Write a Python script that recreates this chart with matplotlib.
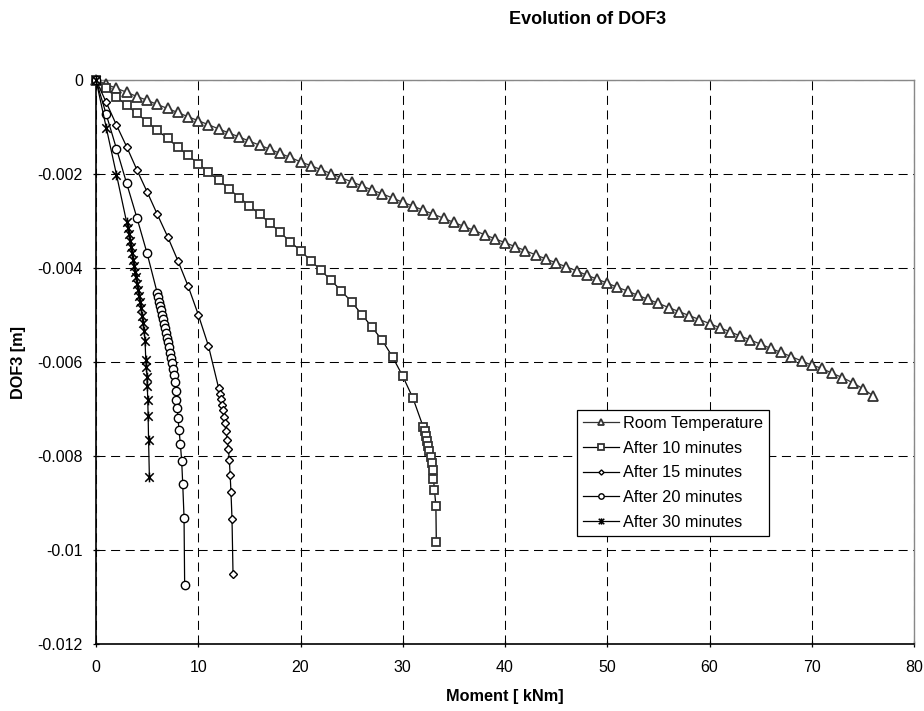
import matplotlib.pyplot as plt
from matplotlib.path import Path

plt.rcParams['font.family'] = ['Liberation Sans', 'DejaVu Sans']

# Moment [kNm] / DOF3 [m]
room_x = [0, 1, 2, 3, 4, 5, 6, 7, 8, 9, 10, 11, 12, 13, 14, 15, 16, 17, 18, 19,
          20, 21, 22, 23, 24, 25, 26, 27, 28, 29, 30, 31, 32, 33, 34, 35, 36, 37, 38, 39,
          40, 41, 42, 43, 44, 45, 46, 47, 48, 49, 50, 51, 52, 53, 54, 55, 56, 57, 58, 59,
          60, 61, 62, 63, 64, 65, 66, 67, 68, 69, 70, 71, 72, 73, 74, 75, 76]
room_y = [0, -0.00009, -0.000175, -0.00026, -0.00035, -0.00043, -0.00052, -0.000605, -0.00069, -0.00078, -0.000865,
          -0.00095, -0.00104, -0.001125, -0.00121, -0.0013, -0.001385, -0.00147, -0.00156, -0.001645, -0.00174,
          -0.00182, -0.001905, -0.00199, -0.00208, -0.002165, -0.00225, -0.00234, -0.00242, -0.00251, -0.0026,
          -0.00268, -0.00277, -0.002855, -0.00294, -0.00303, -0.003115, -0.0032, -0.00329, -0.003375, -0.00346,
          -0.003545, -0.00363, -0.00372, -0.003805, -0.00389, -0.003975, -0.00406, -0.00415, -0.004235, -0.00432,
          -0.00441, -0.00449, -0.00458, -0.004665, -0.00475, -0.00484, -0.004925, -0.00501, -0.005095, -0.00518,
          -0.00527, -0.005355, -0.005445, -0.00553, -0.00562, -0.00571, -0.005795, -0.005885, -0.005975, -0.006065,
          -0.006135, -0.00624, -0.00633, -0.00644, -0.006565, -0.00672]

m10_x = [0, 1, 2, 3, 4, 5, 6, 7, 8, 9, 10, 11, 12, 13, 14, 15, 16, 17, 18, 19, 20,
         21, 22, 23, 24, 25, 26, 27, 28, 29, 30, 31, 32,
         32.14, 32.24, 32.37, 32.47, 32.6, 32.73, 32.83, 32.93, 33.0, 33.1, 33.24, 33.28]
m10_y = [0, -0.000177, -0.000355, -0.000539, -0.000709, -0.000894, -0.00107, -0.00124, -0.00143, -0.0016,
         -0.00178, -0.00196, -0.00213, -0.00231, -0.0025, -0.00267, -0.00286, -0.00304, -0.00324, -0.00344,
         -0.00363, -0.00384, -0.00405, -0.00426, -0.00449, -0.00472, -0.00499, -0.00526, -0.00554, -0.00589,
         -0.0063, -0.00677, -0.00738,
         -0.00747, -0.00757, -0.00767, -0.00778, -0.00789, -0.00801, -0.00815, -0.0083, -0.00848, -0.00872,
         -0.00906, -0.00983]

m15_x = [0, 1, 2, 3, 4, 5, 6, 7, 8, 9, 10, 11, 12,
         12.13, 12.22, 12.32, 12.42, 12.52, 12.62, 12.71, 12.84, 12.94, 13.04, 13.12, 13.2, 13.3, 13.4]
m15_y = [0, -0.000475, -0.000957, -0.00142, -0.00191, -0.00238, -0.00286, -0.00333, -0.00384, -0.00438,
         -0.00499, -0.00566, -0.00656,
         -0.00667, -0.00679, -0.00691, -0.00703, -0.00716, -0.0073, -0.00747, -0.00765, -0.00785, -0.00809,
         -0.0084, -0.00877, -0.00933, -0.01051]

m20_x = [0, 1, 2, 3, 4, 5,
         6.0, 6.1, 6.2, 6.29, 6.39, 6.49, 6.59, 6.68, 6.78, 6.88, 6.98, 7.07, 7.17, 7.27, 7.37, 7.46,
         7.56, 7.64, 7.72, 7.79, 7.87, 7.94, 8.02, 8.12, 8.25, 8.38, 8.48, 8.61, 8.67]
m20_y = [0, -0.00073, -0.00146, -0.0022, -0.00293, -0.00369,
         -0.00454, -0.00462, -0.00472, -0.00481, -0.00489, -0.00499, -0.00509, -0.00518, -0.00528, -0.00538,
         -0.00548, -0.00558, -0.00569, -0.0058, -0.00591, -0.00603, -0.00615, -0.00628, -0.00642, -0.00662,
         -0.0068, -0.00698, -0.0072, -0.00745, -0.00774, -0.00811, -0.00859, -0.00931, -0.01075]

m30_x = [0, 1, 2, 3,
         3.1, 3.2, 3.3, 3.4, 3.5, 3.6, 3.7, 3.8, 3.9, 4.0, 4.1, 4.2, 4.3, 4.4, 4.5, 4.6, 4.7, 4.8,
         4.87, 4.93, 4.98, 5.02, 5.06, 5.1, 5.14, 5.22]
m30_y = [0, -0.00101, -0.00201, -0.00303,
         -0.00315, -0.00328, -0.00342, -0.00355, -0.00368, -0.00382, -0.00395, -0.00408, -0.0042, -0.00433,
         -0.00446, -0.00459, -0.00472, -0.00486, -0.00501, -0.00517, -0.00535, -0.00556,
         -0.00596, -0.0061, -0.00631, -0.00652, -0.0068, -0.00715, -0.00765, -0.00845]

labels = ['Room Temperature', 'After 10 minutes', 'After 15 minutes', 'After 20 minutes', 'After 30 minutes']
x_ticks = [0, 10, 20, 30, 40, 50, 60, 70, 80]
y_ticks = [0, -0.002, -0.004, -0.006, -0.008, -0.01, -0.012]
y_tick_labels = ['0', '-0.002', '-0.004', '-0.006', '-0.008', '-0.01', '-0.012']

# excel style asterisk: x plus a vertical bar
asterisk = Path([(-1, -1), (1, 1), (-1, 1), (1, -1), (0, -1.15), (0, 1.15)],
                [Path.MOVETO, Path.LINETO] * 3)

fig = plt.figure(figsize=(9.24, 7.11), dpi=100)
ax = fig.add_axes([0.1039, 0.0942, 0.8853, 0.7932])

ax.plot(room_x, room_y, color='#333333', lw=0.9, marker='^', ms=6.6, mfc='white',
        mec='#333333', mew=1.3, label=labels[0], clip_on=False, zorder=3)
ax.plot(m10_x, m10_y, color='black', lw=0.9, marker='s', ms=6.0, mfc='white',
        mec='#333333', mew=1.3, label=labels[1], clip_on=False, zorder=3)
ax.plot(m15_x, m15_y, color='black', lw=0.9, marker='D', ms=4.0, mfc='white',
        mec='black', mew=1.0, label=labels[2], clip_on=False, zorder=3)
ax.plot(m20_x, m20_y, color='black', lw=0.9, marker='o', ms=6.0, mfc='white',
        mec='black', mew=1.0, label=labels[3], clip_on=False, zorder=3)
ax.plot(m30_x, m30_y, color='black', lw=0.9, marker=asterisk, ms=7.0, mfc='none',
        mec='black', mew=1.1, label=labels[4], clip_on=False, zorder=3)

ax.set_xlim(0, 80)
ax.set_ylim(-0.012, 0)
ax.set_xticks(x_ticks, labels=[str(t) for t in x_ticks])
ax.set_yticks(y_ticks, labels=y_tick_labels)
ax.tick_params(direction='inout', length=5, width=0.9, colors='black', labelsize=11.5)
ax.tick_params(axis='x', pad=9)
ax.tick_params(axis='y', pad=7)
ax.grid(True, color='black', lw=0.75, ls=(0, (8.7, 5.3)))
ax.set_axisbelow(True)

for s in ['left', 'bottom']:
    ax.spines[s].set_color('black')
    ax.spines[s].set_linewidth(1.2)
for s in ['top', 'right']:
    ax.spines[s].set_color('#888888')
    ax.spines[s].set_linewidth(1.0)

ax.set_xlabel('Moment [ kNm]', fontsize=11.7, fontweight='bold', labelpad=10)
ax.set_ylabel('DOF3 [m]', fontsize=11.7, fontweight='bold', labelpad=8)
fig.text(587.5 / 924, 1 - 19.8 / 711, 'Evolution of DOF3', ha='center', va='center',
         fontsize=13, fontweight='bold')

leg = ax.legend(loc='upper left', bbox_to_anchor=(0.588, 0.415), borderaxespad=0,
                fontsize=11.8, markerscale=0.65, handlelength=2.2, handletextpad=0.25,
                labelspacing=0.6, borderpad=0.35, fancybox=False, framealpha=1)
leg.get_frame().set_edgecolor('black')
leg.get_frame().set_linewidth(0.9)

fig.savefig('out.png', dpi=100)
